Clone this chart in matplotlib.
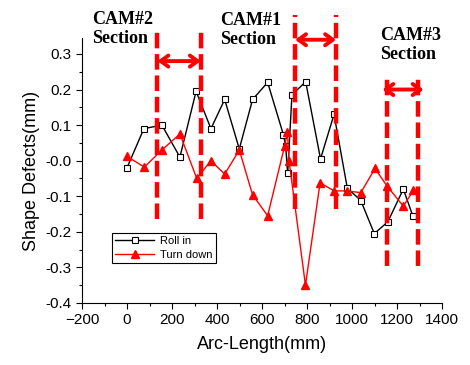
import numpy as np
import matplotlib
matplotlib.use("Agg")
import matplotlib.pyplot as plt

# Roll in (black, open squares)
roll_x = [0, 75, 155, 235, 307, 373, 434, 499, 558, 625, 695, 705, 714, 733, 794, 860, 920, 979, 1039, 1099, 1159, 1228, 1270]
roll_y = [-0.02, 0.09, 0.10, 0.01, 0.195, 0.09, 0.172, 0.033, 0.172, 0.22, 0.073, 0.042, -0.036, 0.185, 0.222, 0.005, 0.13, -0.077, -0.112, -0.205, -0.172, -0.08, -0.155]

# Turn down (red, filled triangles)
turn_x = [0, 77, 155, 235, 310, 373, 434, 499, 558, 625, 700, 713, 720, 793, 858, 920, 979, 1039, 1102, 1154, 1228, 1273]
turn_y = [0.012, -0.018, 0.03, 0.075, -0.05, 0.0, -0.038, 0.03, -0.096, -0.155, 0.04, 0.08, 0.0, -0.35, -0.062, -0.085, -0.085, -0.09, -0.022, -0.07, -0.128, -0.083]

# CAM sections: dashed line positions, line extents, arrow height, arrow ends
sections = ["CAM#2\nSection", "CAM#1\nSection", "CAM#3\nSection"]
sec_left = [135, 747, 1154]
sec_right = [328, 929, 1292]
sec_top = [0.37, 0.41, 0.245]
sec_bottom = [-0.165, -0.135, -0.295]
arrow_y = [0.28, 0.34, 0.20]
arrow_from = [135, 747, 1135]
arrow_to = [328, 929, 1318]
label_x = [-157, 413, 1125]
label_y = [0.422, 0.418, 0.376]

plt.rcParams['font.family'] = ['Liberation Sans', 'DejaVu Sans']

fig = plt.figure(figsize=(4.7, 3.65), dpi=100)
ax = fig.add_axes([0.1745, 0.170, 0.766, 0.726])

ax.plot(roll_x, roll_y, color='black', lw=1, marker='s', markersize=4,
        markerfacecolor='white', markeredgecolor='black', markeredgewidth=0.8,
        label='Roll in', zorder=3)
ax.plot(turn_x, turn_y, color='red', lw=1, marker='^', markersize=6,
        markerfacecolor='red', markeredgecolor='red', label='Turn down', zorder=3)

for i in range(len(sections)):
    for xv in (sec_left[i], sec_right[i]):
        ax.plot([xv, xv], [sec_bottom[i], sec_top[i]], color='red', lw=3.2,
                dashes=(3.5, 1.3), clip_on=False, zorder=4)
    ax.annotate('', xy=(arrow_to[i], arrow_y[i]), xytext=(arrow_from[i], arrow_y[i]),
                arrowprops=dict(arrowstyle='<->,head_length=0.55,head_width=0.4',
                                color='red', lw=2.8, shrinkA=0, shrinkB=0),
                annotation_clip=False, zorder=5)
    ax.text(label_x[i], label_y[i], sections[i], fontsize=13, fontweight='bold',
            family='Liberation Serif', va='top', ha='left', linespacing=1.15,
            clip_on=False)

ax.set_xlim(-200, 1400)
ax.set_ylim(-0.4, 0.345)
ax.set_xticks(np.arange(-200, 1401, 200))
ax.set_xticks(np.arange(-200, 1401, 100), minor=True)
ax.set_yticks(np.arange(-0.4, 0.31, 0.1))
ax.set_yticks(np.arange(-0.4, 0.346, 0.05), minor=True)
ax.set_yticklabels([f"{v:.1f}" for v in np.arange(-0.4, 0.31, 0.1)])

ax.spines['top'].set_visible(False)
ax.spines['right'].set_visible(False)
ax.tick_params(which='major', direction='out', length=4, width=0.8, labelsize=11)
ax.tick_params(which='minor', direction='out', length=2.5, width=0.8)

ax.set_xlabel("Arc-Length(mm)", fontsize=13, labelpad=6)
ax.set_ylabel("Shape Defects(mm)", fontsize=13, labelpad=4)

leg = ax.legend(loc='upper left', bbox_to_anchor=(0.083, 0.264), borderaxespad=0,
                fontsize=8, handlelength=3.5, fancybox=False, edgecolor='black',
                framealpha=1, borderpad=0.3, labelspacing=0.3, handletextpad=0.5)
leg.get_frame().set_linewidth(0.8)

fig.savefig("out.png", dpi=100)
